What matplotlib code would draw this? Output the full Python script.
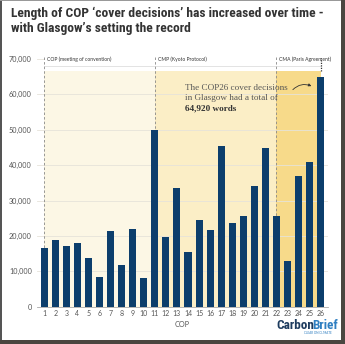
import matplotlib
matplotlib.use('Agg')
import matplotlib.pyplot as plt
from matplotlib.patches import Rectangle
from matplotlib import font_manager

# ---------------- data ----------------
cops = list(range(1, 27))
words = [16500, 18760, 17060, 17900, 13840, 8300, 21380, 11700, 22030, 8020,
         50000, 19600, 33450, 15370, 24400, 21750, 45300, 23550, 25540, 34000,
         44750, 25540, 13000, 36900, 40960, 64920]
period_labels = ['COP (meeting of convention)', 'CMP (Kyoto Protocol)', 'CMA (Paris Agreement)']
period_starts = [1, 11, 22]
period_ends = [11, 22, 26]
yticks = [0, 10000, 20000, 30000, 40000, 50000, 60000, 70000]
ytick_labels = ['0', '10,000', '20,000', '30,000', '40,000', '50,000', '60,000', '70,000']
title = "Length of COP \u2018cover decisions\u2019 has increased over time -\nwith Glasgow\u2019s setting the record"
note_lines = ['The COP26 cover decisions', 'in Glasgow had a total of']
note_bold = '64,920 words'

# ---------------- style ----------------
period_colors = ['#fcf7e5', '#fbeec6', '#f7da8a']
bar_color = '#0c3e6c'
W, H = 345, 344

names = {f.name for f in font_manager.fontManager.ttflist}
narrow = 'DejaVu Sans'
for cand in ['Roboto Condensed', 'Open Sans Condensed', 'Liberation Sans Narrow', 'DejaVu Sans Condensed']:
    if cand in names:
        narrow = cand
        break
sans = 'Lato' if 'Lato' in names else 'DejaVu Sans'
serif = 'Liberation Serif' if 'Liberation Serif' in names else 'DejaVu Serif'

fig = plt.figure(figsize=(W / 100, H / 100), dpi=100)
fig.patch.set_facecolor('white')

ax_l, ax_r, ax_t, ax_b = 36.7, 328.0, 55.4, 306.7
ax = fig.add_axes([ax_l / W, 1 - ax_b / H, (ax_r - ax_l) / W, (ax_b - ax_t) / H])
ax.set_xlim(0.32, 26.66)
ax.set_ylim(0, 71000)
ax.set_facecolor('white')

shade_top = 66700
for s, e, c in zip(period_starts, period_ends, period_colors):
    ax.add_patch(Rectangle((s, 0), e - s, shade_top, facecolor=c, edgecolor='none', zorder=0))

for y in yticks[1:]:
    ax.axhline(y, color='#e6e3da', lw=0.6, zorder=1)

# white header band
ax.add_patch(Rectangle((period_starts[0], shade_top), 27 - period_starts[0], 71000 - shade_top,
                       facecolor='white', edgecolor='none', zorder=1.5))
ax.plot([period_starts[0], period_ends[-1]], [68000, 68000], color='#d8d8d8', lw=0.5, zorder=1.6)

for s, lab in zip(period_starts, period_labels):
    ax.plot([s, s], [0, 70500], color='#888888', lw=0.6, ls=(0, (3, 2.5)), zorder=1.7)
    ax.text(s + 0.25, 69800, lab, fontsize=3.6, color='#333333', family=sans,
            ha='left', va='center', zorder=3)
ax.plot([period_ends[-1], period_ends[-1]], [shade_top, 70200], color='#333333', lw=0.9,
        ls=(0, (1, 1)), zorder=1.8)

ax.bar(cops, words, width=0.64, color=bar_color, zorder=2)

ax.set_yticks(yticks)
ax.set_yticklabels(ytick_labels)
ax.set_xticks(cops)
ax.set_xticklabels([str(c) for c in cops])
ax.tick_params(axis='y', length=0, pad=3.5, labelsize=5.2, labelcolor='#555555')
ax.tick_params(axis='x', length=0, pad=2.5, labelsize=5.0, labelcolor='#555555')
for lab in ax.get_xticklabels() + ax.get_yticklabels():
    lab.set_family(sans)
for sp in ['top', 'right', 'left']:
    ax.spines[sp].set_visible(False)
ax.spines['bottom'].set_color('#aaaaaa')
ax.spines['bottom'].set_linewidth(0.6)
ax.set_xlabel('COP', fontsize=5.2, color='#555555', family=sans, labelpad=3)

# annotation
ax.text(13.73, 61710, note_lines[0], fontsize=6.6, family=serif, color='#555555', va='center', ha='left', zorder=4)
ax.text(13.73, 58890, note_lines[1], fontsize=6.6, family=serif, color='#555555', va='center', ha='left', zorder=4)
ax.text(13.73, 56060, note_bold, fontsize=6.6, family=serif, color='#333333', weight='bold',
        va='center', ha='left', zorder=4)
ax.annotate('', xy=(25.39, 62000), xytext=(23.31, 60750),
            arrowprops=dict(arrowstyle='-|>', color='#333333', lw=0.6, mutation_scale=4,
                            connectionstyle='arc3,rad=-0.4'), zorder=4)

# title
t = fig.text(11 / W, 1 - 7 / H, title, fontsize=13, family=narrow, weight='bold', color='#333333',
             ha='left', va='top', linespacing=1.15)
fig.canvas.draw()
r = fig.canvas.get_renderer()
bb = t.get_window_extent(r)
t.set_fontsize(13 * 311 / bb.width * 1.0)

# logo
c1 = fig.text(276 / W, 1 - 329 / H, 'Carbon', fontsize=9.5, family=narrow, weight='bold',
              color='#1d3b5e', ha='left', va='baseline')
fig.canvas.draw()
b1 = c1.get_window_extent(r)
fig.text((b1.x1 - 1.5) / W, 1 - 329 / H, 'Brief', fontsize=9.5, family=narrow, weight='bold',
         color='#2f7fc1', ha='left', va='baseline')
fig.text(318 / W, 1 - 333 / H, 'CLEAR ON CLIMATE', fontsize=2.2, family=sans, color='#2f7fc1',
         ha='center', va='center')

# frame / shadow
fig.patches.append(Rectangle((0, 0), 1.5 / W, 1, transform=fig.transFigure, facecolor='#555555',
                             edgecolor='none', zorder=10))
fig.patches.append(Rectangle((0, 1 - 1 / H), 1, 1 / H, transform=fig.transFigure, facecolor='#999999',
                             edgecolor='none', zorder=10))
fig.patches.append(Rectangle((1 - 4 / W, 0), 4 / W, 1, transform=fig.transFigure, facecolor='#4a4640',
                             edgecolor='none', zorder=10))
fig.patches.append(Rectangle((0, 0), 1, 4 / H, transform=fig.transFigure, facecolor='#4a4640',
                             edgecolor='none', zorder=10))

fig.savefig('out.png', dpi=100)
